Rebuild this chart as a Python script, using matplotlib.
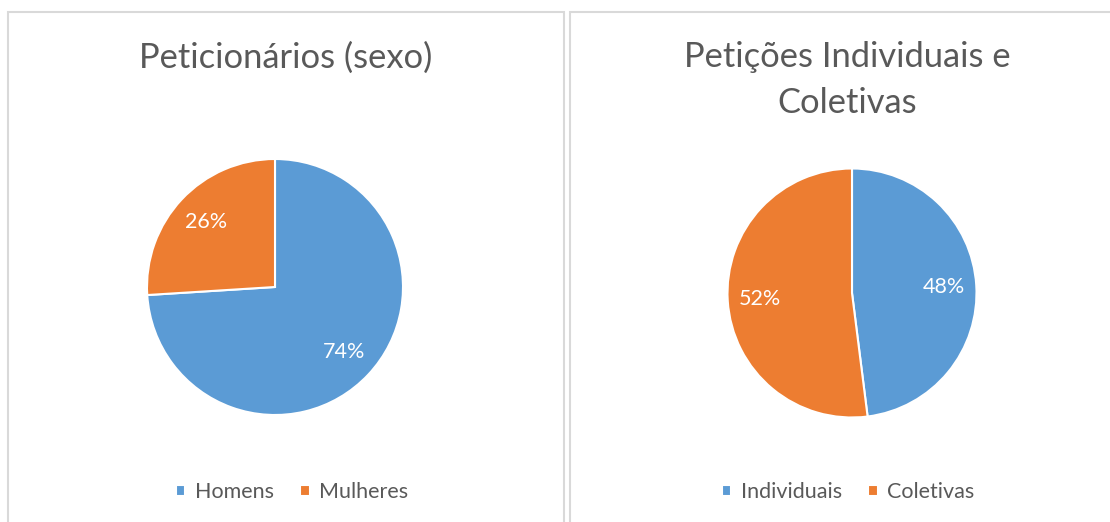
import matplotlib.pyplot as plt
from matplotlib.patches import Rectangle

# Data
sexo_labels = ["Homens", "Mulheres"]
sexo_values = [74, 26]
tipo_labels = ["Individuais", "Coletivas"]
tipo_values = [48, 52]
titles = ["Peticionários (sexo)", "Petições Individuais e\nColetivas"]

BLUE = "#5B9BD5"
ORANGE = "#ED7D31"
TEXT = "#595959"
BORDER = "#D9D9D9"

plt.rcParams["font.family"] = ["Lato", "DejaVu Sans"]

W, H = 1110, 522
fig = plt.figure(figsize=(W / 100, H / 100), dpi=100)


def px_rect(x0, y0, x1, y1):
    # pixel box (top-left origin) -> figure fraction
    return [x0 / W, 1 - y1 / H, (x1 - x0) / W, (y1 - y0) / H]


# panel frames
fig.patches.append(Rectangle((8 / W, -0.05), (564 - 8) / W, 1.05 - 12 / H,
                             transform=fig.transFigure, fill=False,
                             edgecolor=BORDER, linewidth=1.5))
fig.patches.append(Rectangle((570 / W, -0.05), 0.5, 1.05 - 12 / H,
                             transform=fig.transFigure, fill=False,
                             edgecolor=BORDER, linewidth=1.5))

panels = [
    (sexo_values, sexo_labels, (275, 287, 128), (286, 58), (292, 492)),
    (tipo_values, tipo_labels, (852, 293, 124.5), (847, 80), (848, 492)),
]

for (values, labels, (cx, cy, r), (tx, ty), (lx, ly)), title in zip(panels, titles):
    ax = fig.add_axes(px_rect(cx - r, cy - r, cx + r, cy + r))
    wedges, _, autotexts = ax.pie(
        values, colors=[BLUE, ORANGE], startangle=90, counterclock=False,
        autopct="%1.0f%%", pctdistance=0.74,
        wedgeprops=dict(edgecolor="white", linewidth=1.5),
        textprops=dict(color="white", fontsize=15.5),
    )
    ax.set_xlim(-1, 1)
    ax.set_ylim(-1, 1)
    ax.set_aspect("equal")
    ax.axis("off")

    fig.text(tx / W, 1 - ty / H, title, ha="center", va="center",
             fontsize=24.8, color=TEXT, linespacing=1.55)

    fig.legend(wedges, labels, loc="center", bbox_to_anchor=(lx / W, 1 - ly / H),
               ncol=2, frameon=False, fontsize=15.5, labelcolor=TEXT,
               handlelength=0.45, handleheight=0.45, handletextpad=0.45,
               columnspacing=1.2)

fig.savefig("out.png", dpi=100, facecolor="white")
